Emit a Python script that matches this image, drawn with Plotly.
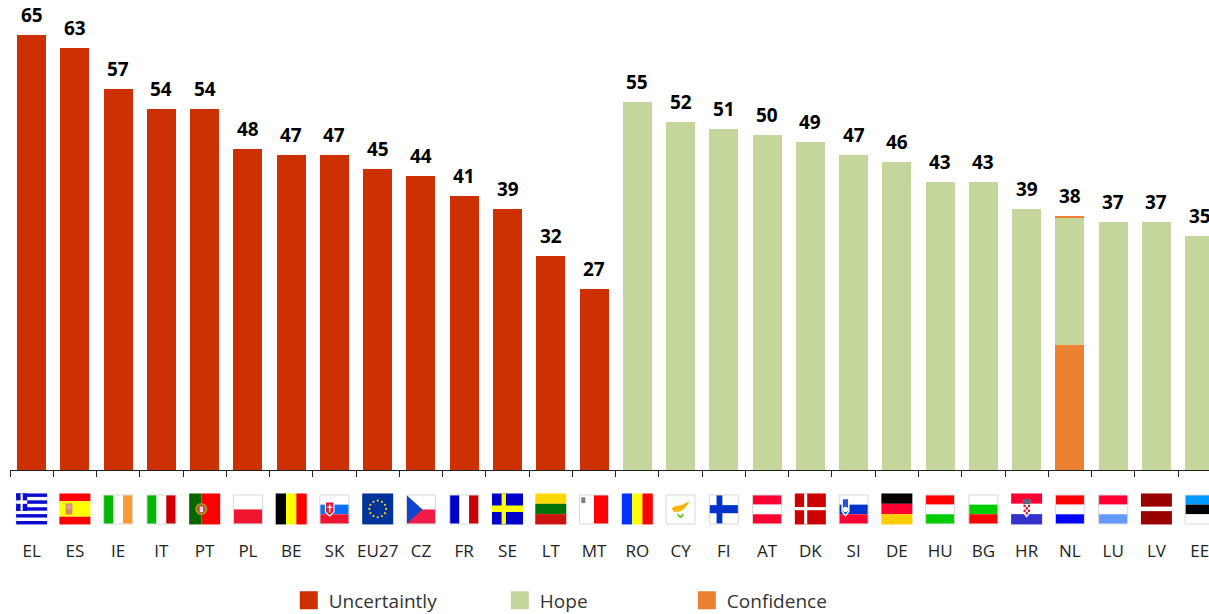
import plotly.graph_objects as go

categories = ["EL","ES","IE","IT","PT","PL","BE","SK","EU27","CZ","FR","SE","LT","MT",
              "RO","CY","FI","AT","DK","SI","DE","HU","BG","HR","NL","LU","LV","EE"]
totals = [65,63,57,54,54,48,47,47,45,44,41,39,32,27,55,52,51,50,49,47,46,43,43,39,38,37,37,35]
uncertainly = [65,63,57,54,54,48,47,47,45,44,41,39,32,27]+[None]*14
hope = [None]*14+[55,52,51,50,49,47,46,43,43,39,19,37,37,35]
confidence_low = [None]*24+[18.7]+[None]*3
confidence_cap = [None]*24+[0.3]+[None]*3

RED, GREEN, ORANGE = "#CC3003", "#C4D69B", "#EE8031"
FONT = "Open Sans"

# plot-area geometry in page pixels
L, R, T, BASE = 10.3, 1209.0, 1.0, 470.5
STEP, PXU = 43.25, 6.7

def fx(px): return (px - L) / (R - L)
def fy(py): return (BASE - py) / (BASE - T)

shapes = []
def box(i, bordered):
    c = L + STEP * (i + 0.5)
    return (c-14.5, 495.5, 29, 29) if bordered else (c-15.5, 494, 31, 31)
def rect(b, u0, v0, u1, v1, color):
    x, y, w, h = b
    shapes.append(dict(type="rect", xref="paper", yref="paper", layer="above",
        x0=fx(x+u0*w), x1=fx(x+u1*w), y0=fy(y+v0*h), y1=fy(y+v1*h),
        fillcolor=color, line=dict(width=0)))
def poly(b, pts, color):
    x, y, w, h = b
    p = "M" + "L".join(f"{fx(x+u*w):.5f},{fy(y+v*h):.5f}" for u, v in pts) + "Z"
    shapes.append(dict(type="path", xref="paper", yref="paper", layer="above", path=p,
        fillcolor=color, line=dict(width=0)))
def dot(b, u, v, r, color):
    x, y, w, h = b
    cx, cy = x+u*w, y+v*h
    shapes.append(dict(type="circle", xref="paper", yref="paper", layer="above",
        x0=fx(cx-r), x1=fx(cx+r), y0=fy(cy-r), y1=fy(cy+r),
        fillcolor=color, line=dict(width=0)))

# orientation, colours, stripe fractions, thin grey frame
flags = {
 "EL": ("H", ["#0A0AD0"], [1], False),
 "ES": ("H", ["#FF0000","#FFFF00","#FF0000"], [.25,.5,.25], False),
 "IE": ("V", ["#00B800","#FFFFFF","#FF9933"], [1/3,1/3,1/3], True),
 "IT": ("V", ["#00B800","#FFFFFF","#CC0000"], [1/3,1/3,1/3], True),
 "PT": ("V", ["#006600","#FF0000"], [.4,.6], False),
 "PL": ("H", ["#FFFFFF","#F0142F"], [.5,.5], True),
 "BE": ("V", ["#000000","#FFFF00","#FF0000"], [1/3,1/3,1/3], False),
 "SK": ("H", ["#FFFFFF","#0B6EFF","#F0142F"], [1/3,1/3,1/3], True),
 "EU27": ("H", ["#003399"], [1], False),
 "CZ": ("H", ["#FFFFFF","#F31B47"], [.5,.5], True),
 "FR": ("V", ["#0000CC","#FFFFFF","#CC0000"], [1/3,1/3,1/3], True),
 "SE": ("H", ["#0000CC"], [1], False),
 "LT": ("H", ["#FFD900","#007308","#CC1111"], [1/3,1/3,1/3], False),
 "MT": ("V", ["#FFFFFF","#FF0000"], [.5,.5], True),
 "RO": ("V", ["#0033FF","#FFFF00","#FF0000"], [1/3,1/3,1/3], False),
 "CY": ("H", ["#FFFFFF"], [1], True),
 "FI": ("H", ["#FFFFFF"], [1], True),
 "AT": ("H", ["#FF0033","#FFFFFF","#FF0033"], [1/3,1/3,1/3], True),
 "DK": ("H", ["#CC0000"], [1], False),
 "SI": ("H", ["#FFFFFF","#0033CC","#FF0033"], [1/3,1/3,1/3], True),
 "DE": ("H", ["#000000","#FF0033","#FFCC00"], [1/3,1/3,1/3], False),
 "HU": ("H", ["#FF0000","#FFFFFF","#00CC00"], [1/3,1/3,1/3], True),
 "BG": ("H", ["#FFFFFF","#00CC00","#FF0000"], [1/3,1/3,1/3], True),
 "HR": ("H", ["#FF0033","#FFFFFF","#3333CC"], [1/3,1/3,1/3], False),
 "NL": ("H", ["#FF0000","#FFFFFF","#0000FF"], [1/3,1/3,1/3], True),
 "LU": ("H", ["#FF0033","#FFFFFF","#6699FF"], [1/3,1/3,1/3], True),
 "LV": ("H", ["#990000","#FFFFFF","#990000"], [.43,.14,.43], False),
 "EE": ("H", ["#0099FF","#000000","#FFFFFF"], [1/3,1/3,1/3], True),
}

for i, code in enumerate(categories):
    orient, cols, fracs, bordered = flags[code]
    b = box(i, bordered)
    pos = 0
    for col, f in zip(cols, fracs):
        if orient == "H": rect(b, 0, pos, 1, pos+f, col)
        else: rect(b, pos, 0, pos+f, 1, col)
        pos += f
    if code == "EL":
        for s in range(1, 9, 2): rect(b, 0, s/9, 1, (s+1)/9, "#FFFFFF")
        rect(b, 0, 0, 5/14, 5/9, "#0A0AD0")
        rect(b, 0, 2/9, 5/14, 3/9, "#FFFFFF")
        rect(b, 2/14, 0, 3/14, 5/9, "#FFFFFF")
    elif code == "ES":
        rect(b, .2, .32, .42, .68, "#D98B5F"); dot(b, .31, .44, 2.5, "#D9A0A0")
    elif code == "PT":
        dot(b, .39, .5, 6, "#A89A20"); dot(b, .39, .5, 4.2, "#B84A3A"); rect(b, .34, .42, .45, .6, "#E8E0E0")
    elif code == "SK":
        poly(b, [(.17,.22),(.5,.22),(.5,.6),(.335,.76),(.17,.6)], "#FFFFFF")
        poly(b, [(.21,.26),(.46,.26),(.46,.58),(.335,.7),(.21,.58)], "#E0142F")
        rect(b, .31, .32, .36, .6, "#FFFFFF"); rect(b, .25, .4, .42, .45, "#FFFFFF")
    elif code == "EU27":
        pts = [(.5,.23),(.635,.27),(.735,.365),(.77,.5),(.735,.635),(.635,.73),
               (.5,.77),(.365,.73),(.265,.635),(.23,.5),(.265,.365),(.365,.27)]
        for u, v in pts: dot(b, u, v, 1.1, "#FFD100")
    elif code == "CZ":
        poly(b, [(0,0),(.55,.5),(0,1)], "#1144CC")
    elif code == "SE":
        rect(b, 0, .39, 1, .6, "#FFFF00"); rect(b, .31, 0, .45, 1, "#FFFF00")
    elif code == "MT":
        rect(b, .06, .08, .2, .28, "#8A7A7A")
    elif code == "CY":
        poly(b, [(.2,.45),(.35,.38),(.55,.35),(.83,.2),(.7,.38),(.6,.5),(.45,.58),(.25,.58)], "#FFB300")
        poly(b, [(.37,.62),(.5,.72),(.62,.62),(.58,.75),(.5,.8),(.42,.75)], "#66CC33")
    elif code == "FI":
        rect(b, 0, .35, 1, .63, "#0033CC"); rect(b, .25, 0, .45, 1, "#0033CC")
    elif code == "DK":
        rect(b, 0, .44, 1, .54, "#FFFFFF"); rect(b, .3, 0, .4, 1, "#FFFFFF")
    elif code == "SI":
        poly(b, [(.08,.08),(.36,.08),(.36,.58),(.22,.76),(.08,.58)], "#FFFFFF")
        poly(b, [(.13,.15),(.31,.15),(.31,.56),(.22,.68),(.13,.56)], "#2255CC")
        dot(b, .22, .5, 2.6, "#FFFFFF")
    elif code == "HR":
        poly(b, [(.38,.2),(.62,.2),(.62,.62),(.5,.78),(.38,.62)], "#FFFFFF")
        for r_ in range(4):
            for c_ in range(3):
                if (r_+c_) % 2 == 0: rect(b, .4+c_*.07, .36+r_*.08, .47+c_*.07, .44+r_*.08, "#E0142F")
        rect(b, .38, .18, .62, .34, "#556688")
    if bordered:
        x, y, w, h = b
        shapes.append(dict(type="rect", xref="paper", yref="paper", layer="above",
            x0=fx(x), x1=fx(x+w), y0=fy(y), y1=fy(y+h), line=dict(color="#D8D8D8", width=1)))

fig = go.Figure()
def bars(vals, color, name):
    fig.add_bar(x=categories, y=vals, name=name, marker=dict(color=color, line=dict(width=0)),
                showlegend=False, hoverinfo="name+y")
bars(uncertainly, RED, "Uncertaintly")
bars(confidence_low, ORANGE, "Confidence")
bars(hope, GREEN, "Hope")
bars(confidence_cap, ORANGE, "Confidence")

labels = [dict(x=c, y=t, text=str(t), showarrow=False, yanchor="bottom", xanchor="center", yshift=5,
               font=dict(family=FONT, size=19, color="#000000", weight=700))
          for c, t in zip(categories, totals)]

# one legend per entry so each swatch sits at its own spot
for name, color, lg_id in [("Uncertaintly", RED, "legend"),
                           ("Hope", GREEN, "legend2"),
                           ("Confidence", ORANGE, "legend3")]:
    fig.add_scatter(x=[None], y=[None], mode="markers", name=name, legend=lg_id,
                    marker=dict(symbol="square", size=16, color=color, line=dict(color=color, width=2)))

def lg(px):
    return dict(x=fx(px), y=fy(601), xanchor="left", yanchor="middle", itemsizing="trace",
                bgcolor="rgba(0,0,0,0)", borderwidth=0,
                font=dict(family=FONT, size=19, color="#333333"))

fig.update_layout(
    width=1209, height=614, autosize=False,
    margin=dict(l=L, r=0, t=T, b=614-BASE, pad=0, autoexpand=False),
    paper_bgcolor="#FFFFFF", plot_bgcolor="#FFFFFF",
    barmode="stack", bargap=0.33, showlegend=True,
    legend=lg(289), legend2=lg(500), legend3=lg(687),
    shapes=shapes, annotations=labels,
    xaxis=dict(type="category", categoryorder="array", categoryarray=categories,
               range=[-0.5, (R-L)/STEP-0.5], tickmode="array", tickvals=categories, ticktext=categories,
               tickson="boundaries", ticks="outside", ticklen=6, tickwidth=1, tickcolor="#222222",
               showline=True, linecolor="#222222", linewidth=1, showgrid=False, zeroline=False,
               ticklabelstandoff=66, tickangle=0,
               tickfont=dict(family=FONT, size=17, color="#222222")),
    yaxis=dict(range=[0, (BASE-T)/PXU], visible=False, showgrid=False, zeroline=False),
)
fig.write_html("out.html", config=dict(displayModeBar=False),
               post_script="document.body.style.margin='0';document.documentElement.style.overflow='hidden';")
